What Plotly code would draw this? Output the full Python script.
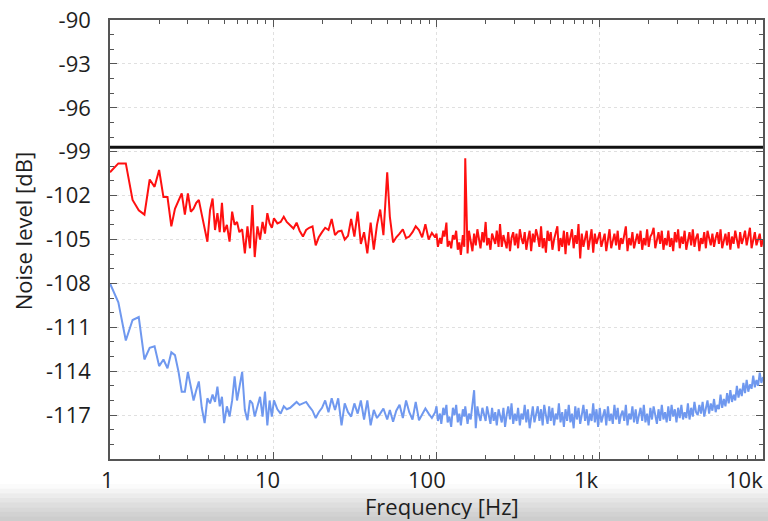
import math
import plotly.graph_objects as go

# ---------------- data ----------------
freq_lo = [1.0, 1.125, 1.25, 1.375, 1.5, 1.625, 1.75, 1.875, 2.0,
           2.125, 2.25, 2.375, 2.5, 2.625, 2.75, 2.875, 3.0, 3.125, 3.25, 3.375, 3.5,
           3.65, 3.8, 3.95, 4.1, 4.25, 4.4, 4.55, 4.7, 4.85, 5.0,
           5.2, 5.4, 5.6, 5.8, 6.0, 6.2, 6.45, 6.7, 6.95, 7.2,
           7.45, 7.7, 8.0, 8.3, 8.6, 8.9, 9.2, 9.5, 9.8]
red_lo = [-100.4, -99.8, -99.8, -102.3, -103.0, -103.3, -100.9, -101.4, -100.25,
          -102.1, -102.1, -104.1, -102.9, -102.4, -101.85, -103.3, -101.85, -103.1, -102.9, -102.5, -102.3,
          -103.3, -104.3, -105.15, -103.0, -102.2, -104.35, -103.2, -104.5, -102.5, -104.5,
          -104.0, -105.15, -103.1, -104.0, -103.8, -104.5, -104.3, -105.95, -104.1, -105.6,
          -102.65, -106.2, -104.1, -105.0, -103.8, -104.6, -103.2, -103.9, -104.2]
blue_lo = [-108.0, -109.3, -111.9, -110.5, -110.3, -113.2, -112.4, -112.3, -113.65,
           -113.2, -113.8, -112.7, -112.9, -114.0, -115.4, -115.4, -114.05, -114.95, -116.0, -115.3, -114.7,
           -116.5, -117.55, -115.85, -116.2, -115.6, -116.1, -115.05, -116.4, -115.75, -117.55,
           -116.4, -117.1, -116.0, -114.35, -116.0, -115.2, -114.05, -116.65, -117.35, -116.0,
           -116.2, -117.1, -116.3, -115.75, -117.1, -115.4, -117.7, -116.0, -117.1]

freq_mid = [10.1, 10.6, 11.1, 11.6, 12.1, 12.7, 13.3, 13.9, 14.5, 15.2,
            15.9, 16.6, 17.4, 18.2, 19.0, 19.9, 20.8, 21.8, 22.8, 23.9,
            25.0, 26.2, 27.4, 28.7, 30.0, 31.4, 32.9, 34.4, 36.0, 37.7,
            39.5, 41.3, 43.2, 45.2, 47.3, 49.9, 51.8, 54.2, 56.7, 59.4,
            62.2, 65.1, 68.1, 71.3, 74.6, 78.1, 81.7, 85.5, 89.5, 93.7, 98.1]
red_mid = [-103.55, -103.9, -103.8, -103.45, -103.8, -104.0, -104.25, -103.85, -104.4, -104.8,
           -104.35, -104.2, -104.1, -105.4, -104.85, -104.5, -104.2, -104.35, -103.6, -104.7,
           -104.45, -104.4, -105.0, -104.75, -103.6, -104.8, -103.1, -105.3, -104.5, -105.95,
           -103.85, -105.7, -104.0, -102.95, -104.7, -100.4, -103.45, -105.2, -104.85, -104.6,
           -104.3, -104.9, -104.8, -104.5, -104.1, -104.35, -104.85, -103.95, -105.0, -104.55, -104.85]
blue_mid = [-116.0, -116.6, -116.9, -116.4, -116.6, -116.5, -116.3, -116.1, -116.3, -116.2,
            -116.1, -116.4, -116.7, -117.2, -116.8, -116.5, -116.0, -116.8, -115.85, -116.65,
            -115.85, -117.7, -116.2, -116.8, -117.1, -116.2, -116.9, -116.0, -117.3, -116.0,
            -117.7, -116.65, -117.2, -116.9, -116.55, -117.3, -116.65, -117.45, -116.7, -116.3,
            -117.2, -116.0, -116.8, -117.3, -116.1, -117.35, -116.9, -116.55, -116.9, -117.2, -116.8]

freq_hi1 = [100, 102, 105, 107, 110, 112, 115, 117, 120, 123,
            126, 129, 132, 135, 138, 141, 145, 148, 150, 155,
            158, 162, 166, 170, 174, 178, 182, 186, 191, 195,
            200, 204, 209, 214, 219, 224, 229, 234, 240, 245,
            251, 257, 263, 269, 275, 282, 288, 295, 302, 309,
            316, 324, 331, 339, 347, 355, 363, 372, 380, 389,
            398, 407, 417, 427, 437, 447, 457, 468, 479, 490,
            501, 513, 525, 537, 550, 562, 575, 589, 603, 617,
            631, 646, 661, 676, 692, 708, 724, 741, 759, 776,
            794, 813, 832, 851, 871, 891, 912, 933, 955, 977]
red_hi1 = [-104.6, -105.5, -104.9, -105.3, -104.4, -104.8, -103.85, -105.5, -105.1, -105.6,
           -104.7, -105.0, -104.4, -105.7, -105.2, -106.05, -104.7, -105.5, -99.45, -105.95,
           -104.4, -105.0, -105.8, -104.6, -105.4, -104.3, -104.9, -105.6, -104.5, -105.2,
           -103.8, -105.4, -104.9, -105.7, -104.6, -104.9, -105.3, -104.4, -105.5, -103.95,
           -105.5, -104.7, -105.1, -105.6, -104.5, -105.8, -104.9, -104.5, -105.4, -104.6,
           -105.6, -104.3, -104.9, -105.3, -104.5, -105.7, -105.0, -104.4, -105.8, -104.6,
           -105.2, -104.3, -104.8, -105.5, -104.1, -105.6, -104.9, -105.9, -104.4, -105.1,
           -104.5, -105.7, -105.0, -104.6, -104.1, -105.8, -104.9, -105.5, -104.4, -106.0,
           -104.5, -105.4, -104.9, -104.3, -105.6, -104.7, -105.3, -103.95, -106.3, -104.6,
           -105.5, -104.9, -104.4, -105.7, -105.1, -104.3, -105.9, -104.6, -105.3, -104.8]
blue_hi1 = [-116.4, -117.4, -116.9, -117.6, -116.5, -117.0, -116.3, -117.5, -117.1, -117.8,
            -116.5, -117.0, -116.3, -117.5, -116.9, -117.7, -116.6, -117.1, -116.4, -117.6,
            -116.9, -117.3, -116.2, -115.3, -117.9, -116.4, -117.0, -117.4, -116.5, -116.9,
            -117.4, -116.4, -117.1, -117.6, -116.5, -117.4, -116.8, -117.7, -116.6, -117.0,
            -117.5, -116.5, -117.8, -117.0, -116.4, -117.3, -116.2, -117.6, -116.9, -117.4,
            -116.5, -117.7, -116.9, -117.3, -116.3, -117.5, -116.6, -117.9, -117.0, -116.4,
            -117.5, -116.9, -116.4, -117.4, -116.6, -117.7, -116.3, -117.0, -117.6, -116.4,
            -117.4, -116.5, -117.7, -116.9, -117.3, -116.2, -117.5, -116.8, -117.8, -116.6,
            -117.4, -116.3, -117.5, -116.9, -117.9, -116.4, -117.3, -116.5, -117.6, -117.0,
            -116.3, -117.4, -116.6, -117.7, -116.9, -117.4, -116.2, -117.5, -116.6, -117.8]

freq_hi2 = [1000, 1023, 1047, 1072, 1096, 1122, 1148, 1175, 1202, 1230,
            1259, 1288, 1318, 1349, 1380, 1413, 1445, 1479, 1514, 1549,
            1585, 1622, 1660, 1698, 1738, 1778, 1820, 1862, 1905, 1950,
            1995, 2042, 2089, 2138, 2188, 2239, 2291, 2344, 2399, 2455,
            2512, 2570, 2630, 2692, 2754, 2818, 2884, 2951, 3020, 3090,
            3162, 3236, 3311, 3388, 3467, 3548, 3631, 3715, 3802, 3890,
            3981, 4074, 4169, 4266, 4365, 4467, 4571, 4677, 4786, 4898,
            5012, 5129, 5248, 5370, 5495, 5623, 5754, 5888, 6026, 6166,
            6310, 6457, 6607, 6761, 6918, 7079, 7244, 7413, 7586, 7762,
            7943, 8128, 8318, 8511, 8710, 8913, 9120, 9333, 9550, 9772,
            10000]
red_hi2 = [-104.5, -105.5, -105.0, -104.6, -105.8, -104.9, -104.3, -105.6, -105.1, -104.6,
           -105.4, -104.4, -105.7, -104.9, -105.3, -104.5, -104.1, -105.8, -104.9, -105.4,
           -104.5, -105.6, -105.1, -104.6, -105.3, -104.4, -105.7, -104.9, -105.4, -104.3,
           -105.5, -104.8, -104.6, -104.2, -105.6, -105.0, -104.5, -105.3, -104.4, -105.7,
           -104.9, -105.4, -104.4, -105.5, -104.9, -105.8, -104.5, -105.2, -104.3, -105.6,
           -104.8, -105.3, -104.4, -105.7, -105.0, -104.5, -105.4, -104.3, -105.5, -104.9,
           -104.6, -105.8, -104.9, -105.3, -104.5, -105.6, -104.4, -105.0, -105.4, -104.6,
           -105.5, -104.9, -104.5, -105.3, -104.3, -105.6, -105.0, -104.6, -105.4, -104.5,
           -105.7, -104.8, -105.3, -104.4, -105.0, -105.6, -104.5, -105.3, -104.9, -104.4,
           -105.4, -104.7, -104.2, -105.6, -104.9, -104.5, -105.4, -105.0, -104.6, -105.5,
           -105.0]
blue_hi2 = [-116.5, -117.5, -117.0, -116.6, -117.7, -116.4, -117.4, -116.9, -117.6, -116.3,
            -117.3, -116.5, -117.6, -117.0, -116.7, -117.4, -116.3, -117.7, -116.9, -117.3,
            -116.4, -117.5, -116.6, -117.6, -117.0, -116.5, -117.4, -116.3, -117.5, -116.9,
            -117.7, -116.5, -117.3, -116.4, -117.0, -117.6, -116.6, -117.4, -116.3, -117.3,
            -116.8, -117.5, -116.4, -117.4, -116.3, -117.1, -116.6, -117.5, -116.5, -117.2,
            -116.3, -117.3, -116.8, -117.2, -116.2, -117.3, -116.5, -117.1, -116.1, -116.8,
            -117.0, -116.3, -116.9, -116.1, -117.1, -116.5, -116.0, -116.9, -116.2, -116.7,
            -115.9, -116.8, -116.3, -116.6, -115.6, -116.5, -115.9, -116.4, -115.5, -116.2,
            -115.3, -116.1, -115.6, -116.0, -115.0, -115.8, -115.2, -115.7, -114.8, -115.5,
            -114.6, -115.4, -114.9, -115.2, -114.3, -115.1, -114.6, -115.0, -114.1, -114.8,
            -114.4]

freq_hz = freq_lo + freq_mid + freq_hi1 + freq_hi2
red_noise_db = red_lo + red_mid + red_hi1 + red_hi2
blue_noise_db = blue_lo + blue_mid + blue_hi1 + blue_hi2
n = min(len(freq_hz), len(red_noise_db), len(blue_noise_db))

threshold_db = -98.7
threshold_freq = [1, 10000]

x_tick_vals = [1, 10, 100, 1000, 10000]
x_tick_labels = ["1", "10", "100", "1k", "10k"]
y_tick_vals = [-90, -93, -96, -99, -102, -105, -108, -111, -114, -117]
y_tick_labels = ["-90", "-93", "-96", "-99", "-102", "-105", "-108", "-111", "-114", "-117"]

# ---------------- figure ----------------
FONT = "Open Sans"
TXT = "#1e1e1e"
FS = 22
fig = go.Figure()
fig.add_trace(go.Scatter(x=threshold_freq, y=[threshold_db, threshold_db], mode="lines",
                         line=dict(color="#111111", width=3), hoverinfo="skip"))
fig.add_trace(go.Scatter(x=freq_hz[:n], y=red_noise_db[:n], mode="lines",
                         line=dict(color="#ff1010", width=2)))
fig.add_trace(go.Scatter(x=freq_hz[:n], y=blue_noise_db[:n], mode="lines",
                         line=dict(color="#6f98ef", width=2)))

axis_common = dict(showline=True, linecolor="#555555", linewidth=1.5, mirror="ticks",
                   ticks="inside", tickcolor="#555555", ticklen=7, tickwidth=1.2,
                   showgrid=True, gridcolor="#e0e0e0", griddash="dot", gridwidth=1,
                   zeroline=False)

fig.update_xaxes(type="log", range=[0, 4], tickvals=x_tick_vals, showticklabels=False,
                 minor=dict(ticks="inside", ticklen=4, tickcolor="#555555", dtick="D1", showgrid=False),
                 **axis_common)
fig.update_yaxes(range=[-120, -90], tickvals=y_tick_vals, ticktext=y_tick_labels,
                 tickfont=dict(family=FONT, size=FS, color=TXT), ticklabelstandoff=13,
                 minor=dict(ticks="inside", ticklen=4, tickcolor="#555555", dtick=1, showgrid=False),
                 **axis_common)

annotations = []
shifts = [-3, -6, -10, -13, -19]
for v, t, s in zip(x_tick_vals, x_tick_labels, shifts):
    annotations.append(dict(x=math.log10(v), xref="x", y=(459 - 479) / 439, yref="paper", text=t,
                            showarrow=False, xshift=s, yanchor="middle", height=26, valign="middle",
                            font=dict(family=FONT, size=FS, color=TXT)))
annotations.append(dict(x=0.508, y=(459 - 506) / 439, xref="paper", yref="paper", text="Frequency [Hz]",
                        showarrow=False, yanchor="middle", height=26, valign="middle",
                        font=dict(family=FONT, size=FS, color=TXT)))
annotations.append(dict(x=-0.133, y=0.519, xref="paper", yref="paper", text="Noise level [dB]",
                        textangle=-90, showarrow=False, xanchor="center", yanchor="middle",
                        font=dict(family=FONT, size=FS, color=TXT)))

# grey gradient band at the bottom
shapes = []
grey_steps = ["#fbfbfb", "#f4f4f4", "#ececec", "#e5e5e5", "#dedede", "#d8d8d8", "#d2d2d2", "#cdcdcd"]
top_px, bot_px = 484, 521
step = (bot_px - top_px) / len(grey_steps)
for i, c in enumerate(grey_steps):
    y0 = (459 - (top_px + i * step)) / 439
    y1 = (459 - (top_px + (i + 1) * step + 0.6)) / 439
    shapes.append(dict(type="rect", xref="paper", yref="paper", x0=-0.2, x1=1.01, y0=y0, y1=y1,
                       fillcolor=c, line=dict(width=0), layer="below"))

fig.update_layout(width=768, height=521, margin=dict(l=110, r=3, t=20, b=62),
                  paper_bgcolor="white", plot_bgcolor="white", showlegend=False,
                  annotations=annotations, shapes=shapes,
                  font=dict(family=FONT, size=FS, color=TXT))

fig.write_html("out.html", config={"displayModeBar": False},
               post_script="document.body.style.margin='0';document.body.style.overflow='hidden';")
